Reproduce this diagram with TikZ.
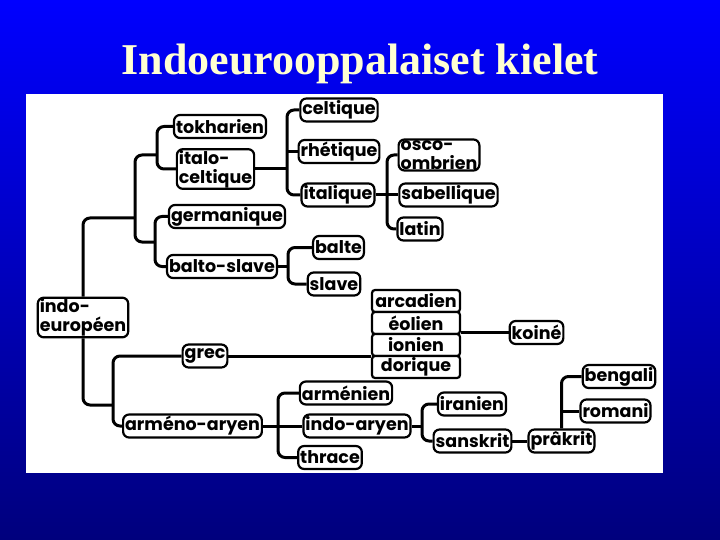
\documentclass[tikz,border=0pt]{standalone}
\usepackage{fontspec}
\usepackage{tikz}
\usetikzlibrary{positioning,calc}
\newfontfamily\langfont{Poppins}
\newfontfamily\titlefont{Liberation Serif}
\definecolor{SlideBlue}{RGB}{0, 0, 255}
\definecolor{SlideMid}{RGB}{0, 0, 220}
\definecolor{SlideNavy}{RGB}{0, 0, 125}
\definecolor{TitleCream}{RGB}{255, 255, 210}
\tikzset{
  lang/.style={draw, fill=white, line width=2.2pt, rounded corners=6pt,
    inner xsep=2pt, inner ysep=1pt, minimum height=23pt,
    font=\langfont\bfseries\fontsize{17.5}{17.5}\selectfont},
  twoline/.style={lang, align=left, font=\langfont\bfseries\fontsize{17.5}{19}\selectfont},
  stackbox/.style={lang, rounded corners=3pt, minimum width=88pt, minimum height=22pt},
  link/.style={line width=3pt, rounded corners=7pt}
}

\begin{document}
\begin{tikzpicture}[x=1pt, y=-1pt]
  \useasboundingbox (0,0) rectangle (720,540);
  % Slide background
  \shade[top color=SlideBlue, middle color=SlideMid, bottom color=SlideNavy] (0,0) rectangle (720,540);
  \fill[white] (26,94) rectangle (663,473);
  % Title
  \node[TitleCream, font=\titlefont\bfseries\fontsize{44}{44}\selectfont] (title) at (360,64) {Indoeurooppalaiset kielet};

  % Languages
  \node[twoline] (ie) at (83,317.5) {indo-\\europ\'een};
  \node[lang] (tokharien) at (220,126.5) {tokharien};
  \node[twoline] (italo) at (215.5,169) {italo-\\celtique};
  \node[lang] (germanique) at (227,216.5) {germanique};
  \node[lang] (baltoslave) at (222,266.5) {balto-slave};
  \node[lang] (grec) at (205,356) {grec};
  \node[lang] (armeno) at (192.5,426) {arm\'eno-aryen};
  \node[lang] (celtique) at (339,110) {celtique};
  \node[lang] (rhetique) at (339,151.5) {rh\'etique};
  \node[lang] (italique) at (338,195) {italique};
  \node[twoline] (osco) at (439,155) {osco-\\ombrien};
  \node[lang] (sabellique) at (448.5,195) {sabellique};
  \node[lang] (latin) at (420,229) {latin};
  \node[lang] (balte) at (338.5,247.5) {balte};
  \node[lang] (slave) at (334,284) {slave};
  \node[stackbox] (arcadien) at (416,301) {arcadien};
  \node[stackbox, below=-2.2pt of arcadien] (eolien) {\'eolien};
  \node[stackbox, below=-2.2pt of eolien] (ionien) {ionien};
  \node[stackbox, below=-2.2pt of ionien] (dorique) {dorique};
  \node[lang] (koine) at (536.5,332.5) {koin\'e};
  \node[lang] (armenien) at (346,393) {arm\'enien};
  \node[lang] (indoaryen) at (357,426) {indo-aryen};
  \node[lang] (thrace) at (330,457.5) {thrace};
  \node[lang] (iranien) at (472,404) {iranien};
  \node[lang] (sanskrit) at (472.5,441) {sanskrit};
  \node[lang] (prakrit) at (561.5,441) {pr\^akrit};
  \node[lang] (bengali) at (619,376.5) {bengali};
  \node[lang] (romani) at (615.5,411) {romani};

  % Junctions
  \coordinate (jA) at (135,218);
  \coordinate (jB) at (157,155);
  \coordinate (jC) at (155,242);
  \coordinate (jD) at (113,405);
  \coordinate (jE) at (287,169);
  \coordinate (jF) at (387,195);
  \coordinate (jG) at (288,266.5);
  \coordinate (jH) at (278,426);
  \coordinate (jI) at (422,426);

  % Branches
  \draw[link] (ie.north) |- (jA);
  \draw[link] (jB) -| (jA) |- (jC);
  \draw[link] (tokharien.west) -| (jB) |- (italo.west);
  \draw[link] (germanique.west) -| (jC) |- (baltoslave.west);
  \draw[link] (ie.south) |- (jD);
  \draw[link] (grec.west) -| (jD) |- (armeno.west);
  \draw[link] (italo.east) -- (jE);
  \draw[link] (celtique.west) -| (jE) |- (italique.west);
  \draw[link] (rhetique.west) -- (rhetique.west -| jE);
  \draw[link] (italique.east) -- (sabellique.west);
  \draw[link] (osco.west) -| (jF) |- (latin.west);
  \draw[link] (baltoslave.east) -- (jG);
  \draw[link] (balte.west) -| (jG) |- (slave.west);
  \draw[link] (grec.east) -- (grec.east -| dorique.west);
  \draw[link] (koine.west -| eolien.east) -- (koine.west);
  \draw[link] (armeno.east) -- (indoaryen.west);
  \draw[link] (armenien.west) -| (jH) |- (thrace.west);
  \draw[link] (indoaryen.east) -- (jI);
  \draw[link] (iranien.west) -| (jI) |- (sanskrit.west);
  \draw[link] (sanskrit.east) -- (prakrit.west);
  \draw[link] (prakrit.north) |- (bengali.west);
  \draw[link] (romani.west) -- (romani.west -| prakrit.north);
\end{tikzpicture}
\end{document}
